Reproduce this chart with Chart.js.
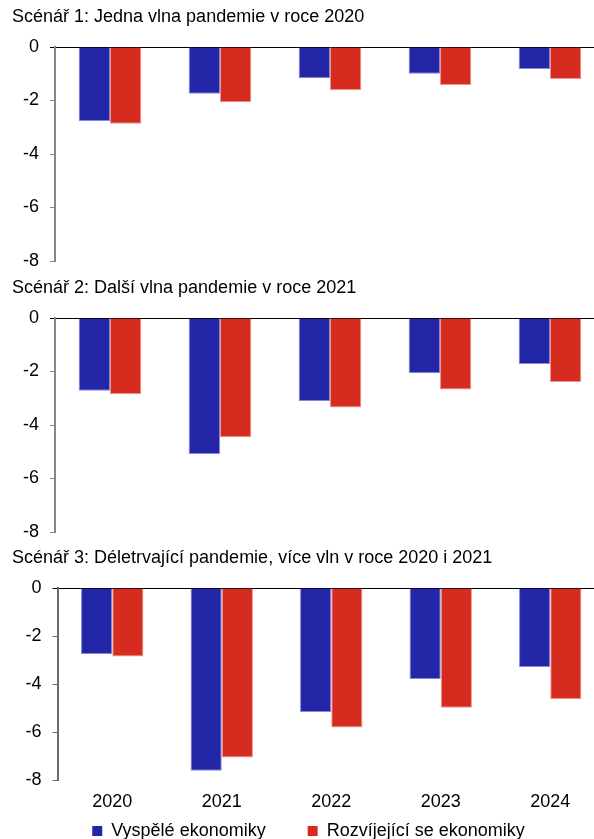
<!DOCTYPE html>
<html lang="cs">
<head>
<meta charset="utf-8">
<title>Scénáře pandemie</title>
<script src="https://cdn.jsdelivr.net/npm/chart.js@4.4.1/dist/chart.umd.min.js"></script>
<style>
  html, body { margin: 0; padding: 0; background: #fff; }
  body { width: 594px; height: 839px; overflow: hidden; position: relative; }
  canvas { position: absolute; left: 0; }
</style>
</head>
<body>
<canvas id="c1" width="632" height="275" style="top:0px"></canvas>
<canvas id="c2" width="632" height="275" style="top:271px"></canvas>
<canvas id="c3" width="632" height="309" style="top:541px"></canvas>
<script>
// Categories and tick labels
const years = ['2020', '2021', '2022', '2023', '2024'];
const yTickValues = [0, -2, -4, -6, -8];
const seriesNames = ['Vyspělé ekonomiky', 'Rozvíjející se ekonomiky'];

// Scenario titles
const titles = [
  'Scénář 1: Jedna vlna pandemie v roce 2020',
  'Scénář 2: Další vlna pandemie v roce 2021',
  'Scénář 3: Déletrvající pandemie, více vln v roce 2020 i 2021'
];

// Scenario 1
const s1Advanced = [-2.77, -1.75, -1.17, -1.00, -0.82];
const s1Emerging = [-2.87, -2.07, -1.62, -1.42, -1.20];
// Scenario 2
const s2Advanced = [-2.72, -5.08, -3.10, -2.07, -1.72];
const s2Emerging = [-2.85, -4.46, -3.35, -2.67, -2.39];
// Scenario 3
const s3Advanced = [-2.75, -7.61, -5.17, -3.79, -3.29];
const s3Emerging = [-2.85, -7.06, -5.81, -4.99, -4.64];

const BLUE = '#2326A6';
const RED = '#D62C20';
const FONT = '"Liberation Sans", Arial, Helvetica, sans-serif';

Chart.defaults.font.family = FONT;
Chart.defaults.font.size = 18;
Chart.defaults.color = '#000';

function makePanel(id, title, advanced, emerging, cfg) {
  const axisColor = cfg.axisColor;
  return new Chart(document.getElementById(id), {
    type: 'bar',
    data: {
      labels: years,
      datasets: [
        {
          label: seriesNames[0],
          data: advanced,
          backgroundColor: BLUE,
          borderColor: 'rgba(120,122,214,0.9)',
          borderWidth: 1,
          categoryPercentage: 0.57,
          barPercentage: 1.0
        },
        {
          label: seriesNames[1],
          data: emerging,
          backgroundColor: RED,
          borderColor: 'rgba(236,140,132,0.9)',
          borderWidth: 1,
          categoryPercentage: 0.57,
          barPercentage: 1.0
        }
      ]
    },
    options: {
      responsive: false,
      animation: false,
      devicePixelRatio: 1,
      layout: { padding: { left: 12, right: 27, top: 0, bottom: cfg.padBottom } },
      plugins: {
        tooltip: { enabled: false },
        title: {
          display: true,
          text: title,
          align: 'start',
          color: '#000',
          font: { size: 18, weight: 'normal' },
          padding: { top: 6, bottom: 19.4 }
        },
        legend: {
          display: cfg.legend,
          position: 'bottom',
          labels: {
            boxWidth: 10,
            boxHeight: 10,
            padding: 42,
            color: '#000',
            font: { size: 18 },
            generateLabels: chart =>
              Chart.defaults.plugins.legend.labels.generateLabels(chart)
                .map(item => Object.assign(item, { lineWidth: 0 }))
          }
        }
      },
      scales: {
        x: {
          display: cfg.showX,
          offset: true,
          grid: { display: false, drawTicks: false },
          border: { display: false },
          // year labels sit in the gap above the legend row
          ticks: { mirror: true, padding: -32.6, maxRotation: 0, color: '#000', font: { size: 18 } },
          afterFit: s => { s.height = 0; }
        },
        y: {
          min: -8,
          max: 0,
          afterBuildTicks: s => { s.ticks = yTickValues.map(v => ({ value: v })); },
          afterFit: s => { s.width = cfg.axisWidth; s.paddingTop = 0; s.paddingBottom = 0; },
          border: { display: true, color: axisColor, width: 2 },
          grid: {
            drawTicks: true,
            tickLength: 5,
            lineWidth: 1,
            color: c => (c.tick && c.tick.value === 0 ? '#000' : 'rgba(0,0,0,0)'),
            tickColor: c => (c.tick && c.tick.value === 0 ? '#000' : axisColor)
          },
          ticks: { padding: 11, color: '#000', font: { size: 18 } }
        }
      }
    }
  });
}

makePanel('c1', titles[0], s1Advanced, s1Emerging,
  { axisWidth: 43, padBottom: 14, showX: false, legend: false, axisColor: '#858585' });
makePanel('c2', titles[1], s2Advanced, s2Emerging,
  { axisWidth: 43, padBottom: 14, showX: false, legend: false, axisColor: '#858585' });
makePanel('c3', titles[2], s3Advanced, s3Emerging,
  { axisWidth: 45.5, padBottom: 0, showX: true, legend: true, axisColor: '#6a6a6a' });
</script>
</body>
</html>
